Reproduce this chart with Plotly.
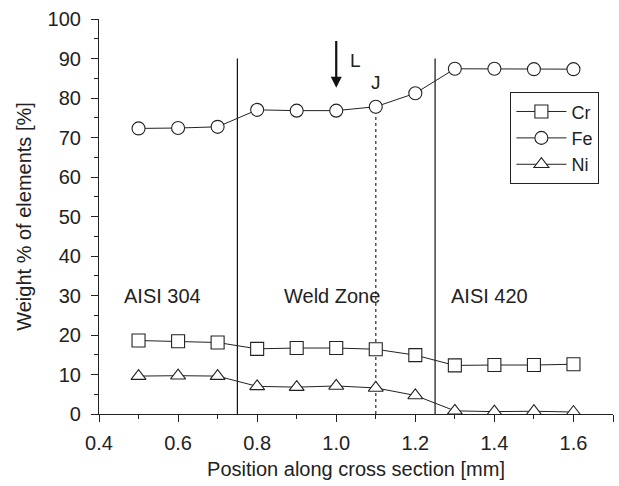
import plotly.graph_objects as go

positions = [0.5, 0.6, 0.7, 0.8, 0.9, 1.0, 1.1, 1.2, 1.3, 1.4, 1.5, 1.6]
cr = [18.6, 18.4, 18.1, 16.5, 16.7, 16.7, 16.4, 14.9, 12.3, 12.4, 12.4, 12.6]
fe = [72.3, 72.4, 72.7, 77.0, 76.8, 76.8, 77.8, 81.2, 87.4, 87.4, 87.3, 87.3]
ni = [9.6, 9.7, 9.6, 7.0, 6.8, 7.1, 6.6, 4.7, 0.8, 0.6, 0.7, 0.5]

boundaries = [0.75, 1.25]
boundary_top = 90
junction_x = 1.1
junction_top = 77.8
zone_labels = ["AISI 304", "Weld Zone", "AISI 420"]
zone_x = [0.458, 0.99, 1.284]
zone_anchor = ["left", "center", "left"]
zone_y = 30

font = "Arial"
line_col = "#222222"

fig = go.Figure()
for name, vals, sym in [("Cr", cr, "square"), ("Fe", fe, "circle"), ("Ni", ni, "triangle-up")]:
    fig.add_trace(go.Scatter(
        x=positions, y=vals, name=name, mode="lines+markers",
        line=dict(color=line_col, width=1),
        marker=dict(symbol=sym, size=13, color="white", line=dict(width=1.1, color=line_col)),
    ))

shapes = []
for b in boundaries:
    shapes.append(dict(type="line", xref="x", yref="y", x0=b, x1=b, y0=0, y1=boundary_top,
                       line=dict(color="#111111", width=1.2), layer="below"))
shapes.append(dict(type="line", xref="x", yref="y", x0=junction_x, x1=junction_x, y0=0, y1=junction_top,
                   line=dict(color="#555555", width=1.5, dash="dot"), layer="below"))

annotations = []
for t, x, xa in zip(zone_labels, zone_x, zone_anchor):
    annotations.append(dict(x=x, y=zone_y, xref="x", yref="y", text=t, showarrow=False,
                            xanchor=xa, yanchor="middle",
                            font=dict(family=font, size=20, color="#222222")))
# Arrow "L"
annotations.append(dict(x=1.0, y=82.6, ax=1.0, ay=94.8, xref="x", yref="y", axref="x", ayref="y",
                        text="", showarrow=True, arrowhead=2, arrowsize=1, arrowwidth=2.2,
                        arrowcolor="#111111"))
annotations.append(dict(x=1.03, y=89.6, xref="x", yref="y", text="L", showarrow=False,
                        xanchor="left", yanchor="middle", font=dict(family=font, size=19, color="#222222")))
annotations.append(dict(x=1.1, y=84.0, xref="x", yref="y", text="J", showarrow=False,
                        xanchor="center", yanchor="middle", font=dict(family=font, size=19, color="#222222")))

fig.update_layout(
    width=619, height=486,
    margin=dict(l=99, r=6, t=19, b=72),
    paper_bgcolor="white", plot_bgcolor="white",
    font=dict(family=font, size=20, color="#222222"),
    shapes=shapes, annotations=annotations,
    legend=dict(x=0.8, y=0.815, xanchor="left", yanchor="top",
                bordercolor="#222222", borderwidth=1.2, bgcolor="white",
                font=dict(family=font, size=18), tracegroupgap=0, itemwidth=50),
    xaxis=dict(range=[0.4, 1.7], tickvals=[0.4, 0.6, 0.8, 1.0, 1.2, 1.4, 1.6, 1.7],
               ticktext=["0.4", "0.6", "0.8", "1.0", "1.2", "1.4", "1.6", ""],
               showgrid=False, zeroline=False, showline=True, linecolor="#222222", linewidth=1.2,
               ticks="outside", ticklen=7, tickwidth=1.2, tickcolor="#222222",
               ticklabelstandoff=4,
               minor=dict(tickvals=[0.5, 0.7, 0.9, 1.1, 1.3, 1.5], ticks="outside", ticklen=4,
                          tickcolor="#222222", tickwidth=1),
               title=dict(text="Position along cross section [mm]", font=dict(size=20), standoff=8),
               tickfont=dict(size=20)),
    yaxis=dict(range=[0, 100], dtick=10, showgrid=False, zeroline=False, showline=True,
               linecolor="#222222", linewidth=1.2,
               ticks="outside", ticklen=7, tickwidth=1.2, tickcolor="#222222",
               ticklabelstandoff=6,
               minor=dict(dtick=5, ticks="outside", ticklen=4, tickcolor="#222222", tickwidth=1),
               title=dict(text="Weight % of elements [%]", font=dict(size=20), standoff=10),
               tickfont=dict(size=20)),
)

fig.write_html("out.html")
